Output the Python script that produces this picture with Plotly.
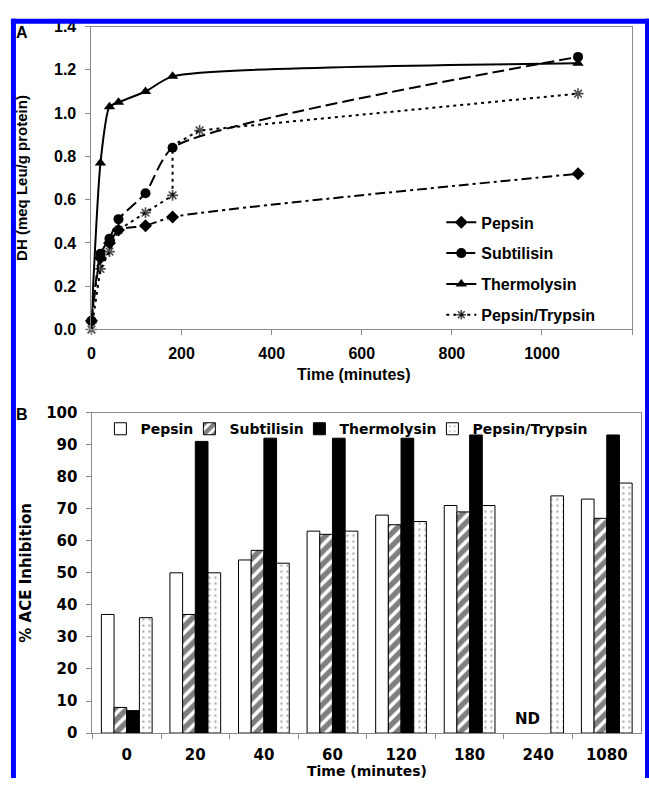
import plotly.graph_objects as go

W, H = 649, 787

# ---------------- Panel A data ----------------
time_pepsin = [0, 20, 40, 60, 120, 180, 1080]
dh_pepsin = [0.04, 0.33, 0.40, 0.46, 0.48, 0.52, 0.72]

time_subtilisin = [0, 20, 40, 60, 120, 180, 1080]
dh_subtilisin = [0.04, 0.35, 0.42, 0.51, 0.63, 0.84, 1.26]

time_thermolysin = [0, 20, 40, 60, 120, 180, 1080]
dh_thermolysin = [0.04, 0.77, 1.03, 1.05, 1.10, 1.17, 1.23]

time_pt = [0, 20, 40, 60, 120, 180, 180, 240, 1080]
dh_pt = [0.00, 0.28, 0.36, 0.46, 0.54, 0.62, 0.85, 0.92, 1.09]
pt_marker_sizes = [9, 9, 9, 9, 9, 9, 0, 9, 9]

# ---------------- Panel B data ----------------
categories = ["0", "20", "40", "60", "120", "180", "240", "1080"]
ace_pepsin = [37, 50, 54, 63, 68, 71, None, 73]
ace_subtilisin = [8, 37, 57, 62, 65, 69, None, 67]
ace_thermolysin = [7, 91, 92, 92, 92, 93, None, 93]
ace_pt = [36, 50, 53, 63, 66, 71, 74, 78]
nd_category = "240"
nd_label = "ND"

FA = "Liberation Sans, Arial, sans-serif"
FB = "DejaVu Sans, Verdana, sans-serif"
GRAY = "#8a8a8a"


def px_x(x):
    return x / W


def px_y(y):
    return 1 - y / H


fig = go.Figure()

line_w = 2
common = dict(mode="lines+markers", cliponaxis=False, xaxis="x", yaxis="y", legend="legend")
fig.add_trace(go.Scatter(x=time_pepsin, y=dh_pepsin, name="Pepsin", legendgroup="a1",
                         line=dict(color="black", width=line_w, dash="10px,4px,3px,4px", shape="spline", smoothing=0.6),
                         marker=dict(symbol="diamond", size=10, color="black"), **common))
fig.add_trace(go.Scatter(x=time_subtilisin, y=dh_subtilisin, name="Subtilisin", legendgroup="a2",
                         line=dict(color="black", width=line_w, dash="12px,5px", shape="spline", smoothing=0.6),
                         marker=dict(symbol="circle", size=10, color="black"), **common))
fig.add_trace(go.Scatter(x=time_thermolysin, y=dh_thermolysin, name="Thermolysin", legendgroup="a3",
                         line=dict(color="black", width=line_w, shape="spline", smoothing=0.6),
                         marker=dict(symbol="triangle-up", size=10, color="black"), **common))
fig.add_trace(go.Scatter(x=time_pt, y=dh_pt, name="Pepsin/Trypsin", legendgroup="a4",
                         line=dict(color="black", width=line_w, dash="3px,4px", shape="linear"),
                         marker=dict(symbol="asterisk-open", size=pt_marker_sizes, color="black",
                                     line=dict(color="black", width=1.6)), **common))

bar_common = dict(x=categories, xaxis="x2", yaxis="y2", legend="legend2")
fig.add_trace(go.Bar(y=ace_pepsin, name="Pepsin", legendwidth=44,
                     marker=dict(color="white", line=dict(color="black", width=1)), **bar_common))
fig.add_trace(go.Bar(y=ace_subtilisin, name="Subtilisin", legendwidth=65,
                     marker=dict(color="white", line=dict(color="black", width=1),
                                 pattern=dict(shape="/", fgcolor="black", bgcolor="white", size=9, solidity=0.6)),
                     **bar_common))
fig.add_trace(go.Bar(y=ace_thermolysin, name="Thermolysin", legendwidth=88,
                     marker=dict(color="black", line=dict(color="black", width=1)), **bar_common))
fig.add_trace(go.Bar(y=ace_pt, name="Pepsin/Trypsin", legendwidth=125,
                     marker=dict(color="white", line=dict(color="black", width=1),
                                 pattern=dict(shape=".", fgcolor="#555555", bgcolor="white", size=6, solidity=0.12)),
                     **bar_common))

axA_font = dict(family=FA, size=16, color="black", weight="bold")
axB_font = dict(family=FB, size=15, color="black", weight="bold")

fig.update_layout(
    width=W, height=H, autosize=False,
    margin=dict(l=0, r=0, t=0, b=0),
    paper_bgcolor="white", plot_bgcolor="white",
    barmode="group", bargap=0.26, bargroupgap=0,
    xaxis=dict(domain=[px_x(88), px_x(632)], range=[0, 1200], dtick=200, tick0=0,
               showgrid=False, zeroline=False, showline=True, linecolor=GRAY, linewidth=1, mirror=True,
               ticks="outside", ticklen=5, tickcolor=GRAY, tickfont=axA_font, anchor="y",
               ticklabelstandoff=4),
    yaxis=dict(domain=[px_y(328), px_y(18)], range=[0, 1.4], dtick=0.2, tick0=0, tickformat=".1f",
               showgrid=False, zeroline=False, showline=True, linecolor=GRAY, linewidth=1, mirror=True,
               ticks="outside", ticklen=5, tickcolor=GRAY, tickfont=axA_font, anchor="x",
               ticklabelstandoff=6),
    xaxis2=dict(domain=[px_x(89), px_x(641)], type="category", range=[-0.5, len(categories) - 0.5],
                showgrid=False, zeroline=False, showline=True, linecolor=GRAY, linewidth=1, mirror=True,
                ticks="outside", ticklen=5, tickcolor=GRAY, tickson="boundaries",
                tickfont=axB_font, anchor="y2", ticklabelstandoff=8),
    yaxis2=dict(domain=[px_y(741), px_y(413)], range=[0, 100], dtick=10, tick0=0,
                showgrid=False, zeroline=False, showline=True, linecolor=GRAY, linewidth=1, mirror=True,
                ticks="outside", ticklen=5, tickcolor=GRAY, tickfont=axB_font, anchor="x2",
                ticklabelstandoff=6),
    legend=dict(x=px_x(440), y=px_y(201), xanchor="left", yanchor="top",
                bgcolor="rgba(0,0,0,0)", tracegroupgap=7,
                font=dict(family=FA, size=16, color="black", weight="bold")),
    legend2=dict(orientation="h", x=px_x(97), y=px_y(430), xanchor="left", yanchor="middle",
                 bgcolor="rgba(0,0,0,0)", traceorder="normal",
                 font=dict(family=FB, size=14, color="black", weight="bold")),
    showlegend=True,
)

annotations = [
    dict(text="DH (meq Leu/g protein)", x=px_x(17), y=px_y(173), textangle=-90,
         font=dict(family=FA, size=15, color="black", weight="bold")),
    dict(text="Time (minutes)", x=px_x(352), y=px_y(374),
         font=dict(family=FA, size=16, color="black", weight="bold")),
    dict(text="A", x=px_x(18), y=px_y(24), font=dict(family=FA, size=16, color="black", weight="bold")),
    dict(text="B", x=px_x(18), y=px_y(415), font=dict(family=FA, size=16, color="black", weight="bold")),
    dict(text="% ACE Inhibition", x=px_x(22), y=px_y(577), textangle=-90,
         font=dict(family=FB, size=15, color="black", weight="bold")),
    dict(text="Time (minutes)", x=px_x(365), y=px_y(780),
         font=dict(family=FB, size=14, color="black", weight="bold")),
]
for a in annotations:
    a["xref"] = "paper"
    a["yref"] = "paper"
    a["xanchor"] = "center"
    a["yanchor"] = "middle"
    a["showarrow"] = False
annotations.append(dict(text=nd_label, x=categories.index(nd_category), y=4.5, xref="x2", yref="y2",
                        xshift=-11, showarrow=False,
                        font=dict(family=FB, size=15, color="black", weight="bold")))
fig.update_layout(annotations=annotations)

blue = "#0000FF"
fig.update_layout(shapes=[
    dict(type="line", xref="paper", yref="paper", x0=px_x(9.5), x1=px_x(9.5), y0=px_y(10), y1=0,
         line=dict(color=blue, width=5)),
    dict(type="line", xref="paper", yref="paper", x0=px_x(7), x1=px_x(649), y0=px_y(12.5), y1=px_y(12.5),
         line=dict(color=blue, width=5)),
    dict(type="line", xref="paper", yref="paper", x0=px_x(647), x1=px_x(647), y0=px_y(10), y1=0,
         line=dict(color=blue, width=4)),
])

fig.write_html("out.html", config={"responsive": False},
               post_script="document.body.style.margin='0';document.body.style.overflow='hidden';")
